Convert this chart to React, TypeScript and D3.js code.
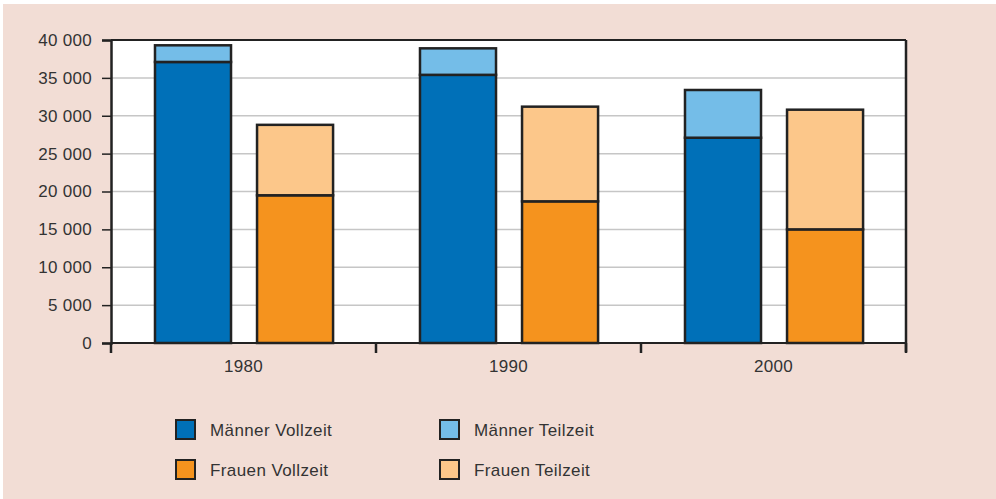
import React, { useEffect, useRef } from 'react';
import * as d3 from 'd3';

// Values
const years = ['1980', '1990', '2000'];
const maennerVollzeit = [37100, 35400, 27100];
const maennerTeilzeit = [2200, 3500, 6300];
const frauenVollzeit = [19500, 18700, 15000];
const frauenTeilzeit = [9300, 12500, 15800];
const yTicks = [0, 5000, 10000, 15000, 20000, 25000, 30000, 35000, 40000];

const colors = {
  mv: '#0070b8',
  mt: '#74bde8',
  fv: '#f5931e',
  ft: '#fcc78a',
};

const legendItems = [
  { label: 'Männer Vollzeit', color: colors.mv },
  { label: 'Männer Teilzeit', color: colors.mt },
  { label: 'Frauen Vollzeit', color: colors.fv },
  { label: 'Frauen Teilzeit', color: colors.ft },
];

const App = () => {
  const ref = useRef<SVGSVGElement>(null);

  useEffect(() => {
    const svg = d3.select(ref.current);
    svg.selectAll('*').remove();

    const W = 996;
    const H = 499;
    const margin = { left: 111, right: 90, top: 40, bottom: 156 };
    const width = W - margin.left - margin.right;
    const height = H - margin.top - margin.bottom;
    const font = "'Liberation Sans', Arial, sans-serif";
    const fontSize = '17px';
    const textColor = '#333';

    // background
    svg.append('rect').attr('width', W).attr('height', H).attr('fill', '#fff');
    svg.append('rect')
      .attr('x', 3).attr('y', 4)
      .attr('width', W - 3).attr('height', H - 4)
      .attr('fill', '#f2ddd5');

    const g = svg.append('g').attr('transform', `translate(${margin.left},${margin.top})`);

    g.append('rect').attr('width', width).attr('height', height).attr('fill', '#fff');

    const x = d3.scaleBand().domain(years).range([0, width]);
    const y = d3.scaleLinear().domain([0, 40000]).range([height, 0]);

    // grid lines
    g.selectAll('.grid')
      .data(yTicks.filter(t => t > 0 && t < 40000))
      .enter()
      .append('line')
      .attr('x1', 0).attr('x2', width)
      .attr('y1', d => y(d)).attr('y2', d => y(d))
      .attr('stroke', '#c6c6c6')
      .attr('stroke-width', 1.5);

    // bars: sub-band for men / women inside each year band
    const bwBand = x.bandwidth();
    const sub = d3.scaleBand().domain(['m', 'f'])
      .range([bwBand * 0.166, bwBand * 0.838])
      .paddingInner(0.255).paddingOuter(0);

    const stacks = [
      { key: 'm', bottom: maennerVollzeit, top: maennerTeilzeit, c1: colors.mv, c2: colors.mt },
      { key: 'f', bottom: frauenVollzeit, top: frauenTeilzeit, c1: colors.fv, c2: colors.ft },
    ];

    stacks.forEach(s => {
      years.forEach((yr, i) => {
        const bx = (x(yr) as number) + (sub(s.key) as number);
        const bw = sub.bandwidth();
        const v1 = s.bottom[i];
        const v2 = v1 + s.top[i];
        g.append('rect')
          .attr('x', bx).attr('y', y(v1))
          .attr('width', bw).attr('height', y(0) - y(v1))
          .attr('fill', s.c1)
          .attr('stroke', '#222').attr('stroke-width', 2.5);
        g.append('rect')
          .attr('x', bx).attr('y', y(v2))
          .attr('width', bw).attr('height', y(v1) - y(v2))
          .attr('fill', s.c2)
          .attr('stroke', '#222').attr('stroke-width', 2.5);
      });
    });

    // frame: top & right
    g.append('line').attr('x1', 0).attr('x2', width).attr('y1', 0).attr('y2', 0)
      .attr('stroke', '#222').attr('stroke-width', 2);
    g.append('line').attr('x1', width).attr('x2', width).attr('y1', 0).attr('y2', height + 9)
      .attr('stroke', '#222').attr('stroke-width', 2.5);

    // y axis
    const fmt = (d: number) => d3.format(',')(d).replace(/,/g, ' ');
    const yAxis = g.append('g')
      .call(d3.axisLeft(y).tickValues(yTicks).tickSize(9).tickPadding(10).tickFormat(d => fmt(d as number)));
    yAxis.select('.domain').attr('stroke', '#222').attr('stroke-width', 2.5);
    yAxis.selectAll('.tick line').attr('stroke', '#222').attr('stroke-width', 1.5);
    yAxis.selectAll('text')
      .style('font-family', font).style('font-size', fontSize).style('letter-spacing', '0.3px')
      .attr('fill', textColor);

    // x axis
    const boundaries = [0, ...years.map(yr => (x(yr) as number) + x.bandwidth())];
    g.append('line').attr('x1', 0).attr('x2', width).attr('y1', height).attr('y2', height)
      .attr('stroke', '#222').attr('stroke-width', 2);
    g.selectAll('.xtick')
      .data(boundaries)
      .enter()
      .append('line')
      .attr('x1', d => d).attr('x2', d => d)
      .attr('y1', height).attr('y2', height + 10)
      .attr('stroke', '#222').attr('stroke-width', 2.5);
    g.selectAll('.xlabel')
      .data(years)
      .enter()
      .append('text')
      .attr('x', d => (x(d) as number) + x.bandwidth() / 2)
      .attr('y', height + 29)
      .attr('text-anchor', 'middle')
      .style('font-family', font).style('font-size', fontSize).style('letter-spacing', '0.3px')
      .attr('fill', textColor)
      .text(d => d);

    // legend
    const legend = svg.append('g');
    legendItems.forEach((item, i) => {
      const col = i % 2;
      const row = Math.floor(i / 2);
      const lx = 176 + col * 264;
      const ly = 420 + row * 40;
      legend.append('rect')
        .attr('x', lx).attr('y', ly)
        .attr('width', 19).attr('height', 19)
        .attr('fill', item.color)
        .attr('stroke', '#222').attr('stroke-width', 2);
      legend.append('text')
        .attr('x', lx + 34).attr('y', ly + 16)
        .style('font-family', font).style('font-size', fontSize).style('letter-spacing', '0.4px')
        .attr('fill', textColor)
        .text(item.label);
    });
  }, []);

  return (
    <svg ref={ref} width={996} height={499} style={{ display: 'block', position: 'absolute', left: 0, top: 0 }} />
  );
};

export default App;
